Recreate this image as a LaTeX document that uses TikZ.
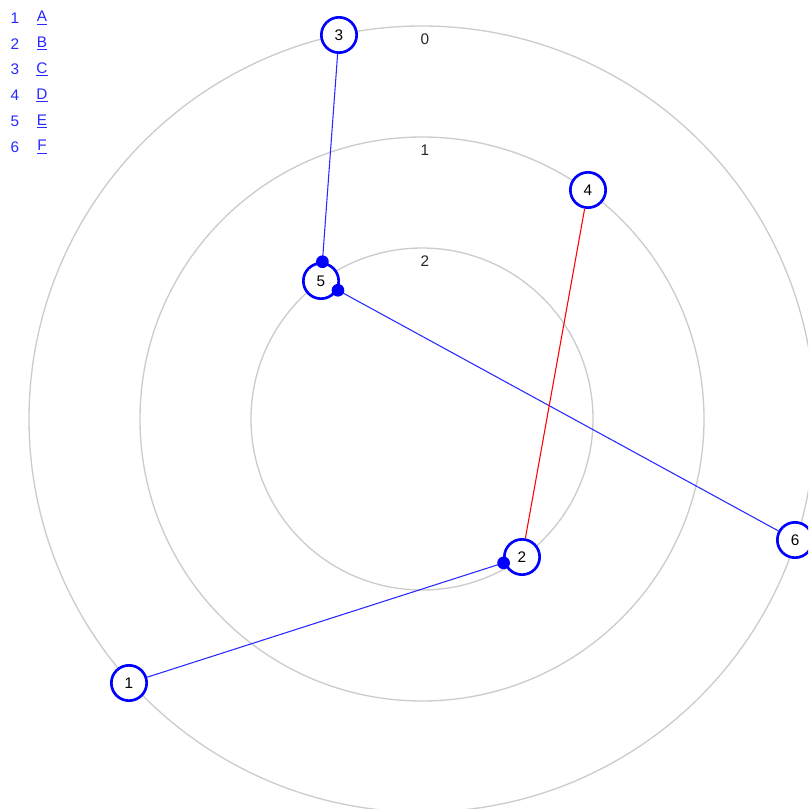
\documentclass[tikz,border=0pt]{standalone}
\usepackage{fontspec}
\setmainfont{Liberation Sans}
\usetikzlibrary{arrows.meta}
\definecolor{ringgray}{RGB}{204,204,204}
\definecolor{linkblue}{RGB}{40,40,255}

\begin{document}
\begin{tikzpicture}[x=0.75pt, y=-0.75pt, font=\fontsize{11.5pt}{13pt}\selectfont,
		ring/.style={draw=ringgray, line width=1pt},
		vtx/.style={circle, draw=blue, line width=2pt, fill=white, minimum size=26.5pt, inner sep=0pt},
		edge/.style={draw=linkblue, line width=0.8pt},
		dot/.style={-{Circle[length=9.5pt, color=blue]}, shorten >=-4.5pt},
		legend/.style={text=linkblue, inner sep=0pt}]
	\useasboundingbox (0,0) rectangle (808,809);
	\clip (0,0) rectangle (808,809);
	\coordinate (ctr) at (422,419);
	%Ringe
	\foreach \r/\lab in {393/0, 282/1, 171/2} {
		\draw[ring] (ctr) circle [radius=\r*0.75pt];
		\node[inner sep=0pt, text=black!85] (lab\lab) at (425,419-\r+13) {\lab};
	}
	%Knoten
	\node[vtx] (n1) at (129,683) {1};
	\node[vtx] (n2) at (522,557) {2};
	\node[vtx] (n3) at (339,35) {3};
	\node[vtx] (n4) at (588,190) {4};
	\node[vtx] (n5) at (321,281) {5};
	\node[vtx] (n6) at (795,540) {6};
	%Kanten
	\draw[edge, dot] (n3) -- (n5);
	\draw[edge, dot] (n6) -- (n5);
	\draw[edge, dot] (n1) -- (n2);
	\draw[edge, draw=red] (n4) -- (n2);
	%Legende
	\foreach \i/\L [count=\k from 0] in {1/A, 2/B, 3/C, 4/D, 5/E, 6/F} {
		\node[legend] (num\i) at (15,18+25.8*\k) {\i};
		\node[legend] (key\i) at (42,18+25.8*\k) {\underline{\L}};
	}
\end{tikzpicture}
\end{document}
